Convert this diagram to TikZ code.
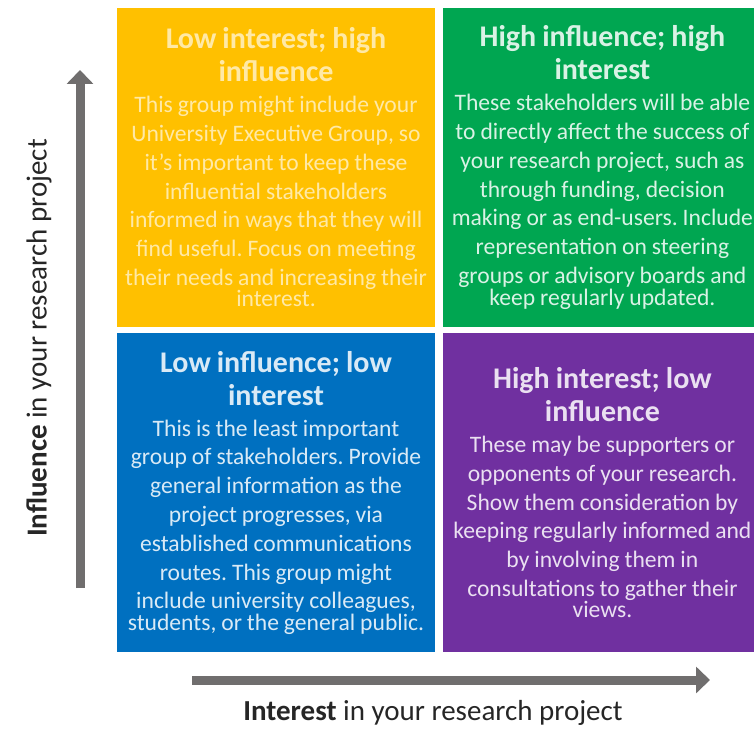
\documentclass[tikz,border=0pt]{standalone}
\usepackage{fontspec}
\setmainfont{Carlito}
\usetikzlibrary{arrows.meta,positioning}
\definecolor{gridyellow}{RGB}{255,192,0}
\definecolor{gridgreen}{RGB}{0,166,81}
\definecolor{gridblue}{RGB}{0,112,192}
\definecolor{gridpurple}{RGB}{112,48,160}
\definecolor{axisgray}{RGB}{112,110,110}
% fixed word spaces, lines are broken by hand
\newcommand{\quadhead}{\fontsize{30}{33}\selectfont\bfseries\spaceskip=.2em\relax}
\newcommand{\quadbody}{\fontsize{23.6}{28.8}\selectfont\mdseries\spaceskip=.21em\relax}
\frenchspacing

\begin{document}
\begin{tikzpicture}[x=1pt,y=1pt,node distance=6pt and 8pt,
    quad/.style={minimum width=318pt,minimum height=319pt,text width=318pt,inner sep=0pt,align=center},
    axis/.style={draw=axisgray,line width=9pt,-{Triangle[length=14pt,width=26pt]}},
    axislabel/.style={text=black!85,font=\fontsize{29}{34}\selectfont}]
        \useasboundingbox[fill=white] (0,0) rectangle (754,729);
        % the four quadrants
        \node[quad,fill=gridyellow,text=white!65!gridyellow] (hiinf) at (276,561.5) {\quadhead Low interest; high\\ influence\\[2pt]
          \quadbody This group might include your\\ University Executive Group, so\\ it's important to keep these\\ influential stakeholders\\
          informed in ways that they will\\ find useful. Focus on meeting\\ their needs and increasing their\\ interest.};
        \node[quad,fill=gridgreen,text=white!85!gridgreen,right=of hiinf] (hiboth) {\quadhead High influence; high\\ interest\\[2pt]
          \quadbody These stakeholders will be able\\ to directly affect the success of\\ your research project, such as\\ through funding, decision\\
          making or as end-users. Include\\ representation on steering\\ groups or advisory boards and\\ keep regularly updated.};
        \node[quad,fill=gridblue,text=white!85!gridblue,below=of hiinf] (loboth) {\quadhead Low influence; low\\ interest\\[2pt]
          \quadbody This is the least important\\ group of stakeholders. Provide\\ general information as the\\ project progresses, via\\
          established communications\\ routes. This group might\\ include university colleagues,\\ students, or the general public.};
        \node[quad,fill=gridpurple,text=white!85!gridpurple,right=of loboth] (hiint) {\quadhead High interest; low\\ influence\\[2pt]
          \quadbody These may be supporters or\\ opponents of your research.\\ Show them consideration by\\ keeping regularly informed and\\
          by involving them in\\ consultations to gather their\\ views.};
        % axes
        \coordinate (inflow) at (80,141);
        \coordinate (infhigh) at (80,659);
        \coordinate (intlow) at (192,49);
        \coordinate (inthigh) at (710,49);
        \draw[axis] (inflow) -- (infhigh);
        \draw[axis] (intlow) -- (inthigh);
        \node[axislabel,rotate=90] (inflabel) at (39,391) {\textbf{Influence} in your research project};
        \node[axislabel] (intlabel) at (433,16) {\textbf{Interest} in your research project};
      \end{tikzpicture}
\end{document}
